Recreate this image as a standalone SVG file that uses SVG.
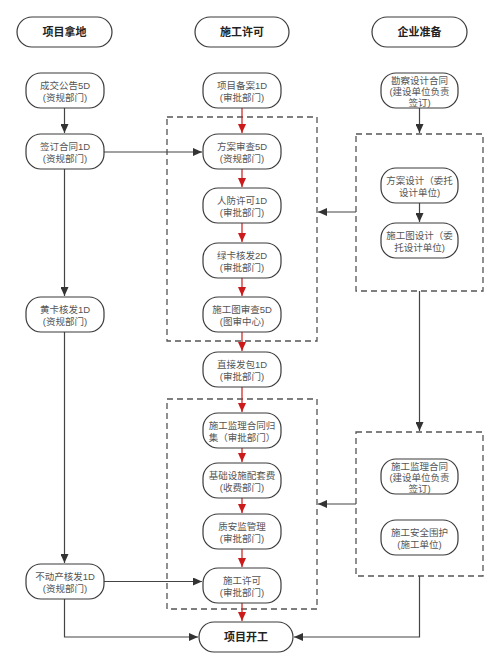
<svg xmlns="http://www.w3.org/2000/svg" width="500" height="669" viewBox="0 0 500 669">
<style>
.n{fill:#fff;stroke:#3a3a3a;stroke-width:1.2}
.t{font-family:"Liberation Sans","Noto Sans CJK SC",sans-serif;font-size:9.5px;fill:#555;text-anchor:middle}
.h{font-family:"Liberation Sans","Noto Sans CJK SC",sans-serif;font-size:11px;font-weight:bold;fill:#222;text-anchor:middle}
.b{fill:none;stroke:#555;stroke-width:1.3;stroke-dasharray:6 4}
.k{fill:none;stroke:#444;stroke-width:1.2}
.r{fill:none;stroke:#cc1a1a;stroke-width:1.2}
</style>
<defs>
<marker id="ak" markerUnits="userSpaceOnUse" markerWidth="10" markerHeight="8" refX="9" refY="4" orient="auto"><path d="M0,0 L9,4 L0,8 z" fill="#333"/></marker>
<marker id="ar" markerUnits="userSpaceOnUse" markerWidth="10" markerHeight="8" refX="9" refY="4" orient="auto"><path d="M0,0 L9,4 L0,8 z" fill="#cc1a1a"/></marker>
</defs>
<rect width="500" height="669" fill="#fff"/>
<g id="groups">
<rect class="b" x="167" y="117" width="150" height="224"/>
<rect class="b" x="167" y="399" width="150" height="210"/>
<rect class="b" x="356" y="134" width="127" height="157"/>
<rect class="b" x="356" y="432" width="127" height="144"/>
</g>
<g id="connectors">
<path class="k" d="M64.5 108V133" marker-end="url(#ak)"/>
<path class="k" d="M104 152H202" marker-end="url(#ak)"/>
<path class="k" d="M64.5 169V296" marker-end="url(#ak)"/>
<path class="k" d="M64.5 332V563" marker-end="url(#ak)"/>
<path class="k" d="M104 581.5H202" marker-end="url(#ak)"/>
<path class="k" d="M64.5 599V637H198" marker-end="url(#ak)"/>
<path class="k" d="M419.5 108V133" marker-end="url(#ak)"/>
<path class="k" d="M356 212H318" marker-end="url(#ak)"/>
<path class="k" d="M419.5 203V222" marker-end="url(#ak)"/>
<path class="k" d="M419.5 291V431" marker-end="url(#ak)"/>
<path class="k" d="M356 504H318" marker-end="url(#ak)"/>
<path class="k" d="M419.5 576V637H294" marker-end="url(#ak)"/>
<path class="r" d="M242 108V133" marker-end="url(#ar)"/>
<path class="r" d="M242 169V187" marker-end="url(#ar)"/>
<path class="r" d="M242 223V242" marker-end="url(#ar)"/>
<path class="r" d="M242 278V296" marker-end="url(#ar)"/>
<path class="r" d="M242 332V351" marker-end="url(#ar)"/>
<path class="r" d="M242 387V412" marker-end="url(#ar)"/>
<path class="r" d="M242 448V462" marker-end="url(#ar)"/>
<path class="r" d="M242 498V513" marker-end="url(#ar)"/>
<path class="r" d="M242 549V567" marker-end="url(#ar)"/>
<path class="r" d="M242 603V621" marker-end="url(#ar)"/>
</g>
<g id="h1"><rect class="n" x="17" y="17" width="95" height="30" rx="15"/><text class="h" x="64.5" y="36">项目拿地</text></g>
<g id="h2"><rect class="n" x="195" y="17" width="94" height="30" rx="15"/><text class="h" x="242" y="36">施工许可</text></g>
<g id="h3"><rect class="n" x="372" y="17" width="95" height="30" rx="15"/><text class="h" x="419.5" y="36">企业准备</text></g>
<g id="l1"><rect class="n" x="26" y="73" width="78" height="35" rx="15"/><text class="t" x="65" y="89">成交公告5D<tspan x="65" dy="11.5">(资规部门)</tspan></text></g>
<g id="l2"><rect class="n" x="26" y="134" width="78" height="35" rx="15"/><text class="t" x="65" y="150">签订合同1D<tspan x="65" dy="11.5">(资规部门)</tspan></text></g>
<g id="l3"><rect class="n" x="26" y="297" width="78" height="35" rx="15"/><text class="t" x="65" y="313">黄卡核发1D<tspan x="65" dy="11.5">(资规部门)</tspan></text></g>
<g id="l4"><rect class="n" x="26" y="564" width="78" height="35" rx="15"/><text class="t" x="65" y="580">不动产核发1D<tspan x="65" dy="11.5">(资规部门)</tspan></text></g>
<g id="c1"><rect class="n" x="203" y="73" width="78" height="35" rx="15"/><text class="t" x="242" y="89">项目备案1D<tspan x="242" dy="11.5">(审批部门)</tspan></text></g>
<g id="c2"><rect class="n" x="203" y="134" width="78" height="35" rx="15"/><text class="t" x="242" y="150">方案审查5D<tspan x="242" dy="11.5">(资规部门)</tspan></text></g>
<g id="c3"><rect class="n" x="203" y="188" width="78" height="35" rx="15"/><text class="t" x="242" y="204">人防许可1D<tspan x="242" dy="11.5">(审批部门)</tspan></text></g>
<g id="c4"><rect class="n" x="203" y="243" width="78" height="35" rx="15"/><text class="t" x="242" y="259">绿卡核发2D<tspan x="242" dy="11.5">(审批部门)</tspan></text></g>
<g id="c5"><rect class="n" x="203" y="297" width="78" height="35" rx="15"/><text class="t" x="242" y="313">施工图审查5D<tspan x="242" dy="11.5">(图审中心)</tspan></text></g>
<g id="c6"><rect class="n" x="203" y="352" width="78" height="35" rx="15"/><text class="t" x="242" y="368">直接发包1D<tspan x="242" dy="11.5">(审批部门)</tspan></text></g>
<g id="c7"><rect class="n" x="203" y="413" width="78" height="35" rx="15"/><text class="t" x="242" y="429">施工监理合同归<tspan x="242" dy="11.5">集（审批部门）</tspan></text></g>
<g id="c8"><rect class="n" x="203" y="463" width="78" height="35" rx="15"/><text class="t" x="242" y="479">基础设施配套费<tspan x="242" dy="11.5">(收费部门)</tspan></text></g>
<g id="c9"><rect class="n" x="203" y="514" width="78" height="35" rx="15"/><text class="t" x="242" y="530">质安监管理<tspan x="242" dy="11.5">(审批部门)</tspan></text></g>
<g id="c10"><rect class="n" x="203" y="568" width="78" height="35" rx="15"/><text class="t" x="242" y="584">施工许可<tspan x="242" dy="11.5">(审批部门)</tspan></text></g>
<g id="end"><rect class="n" x="199" y="622" width="94" height="30" rx="15"/><text class="h" x="246" y="641">项目开工</text></g>
<g id="r1"><rect class="n" x="381" y="73" width="77" height="35" rx="15"/><text class="t" x="419.5" y="83.5">勘察设计合同<tspan x="419.5" dy="11">(建设单位负责</tspan><tspan x="419.5" dy="11">签订)</tspan></text></g>
<g id="r2"><rect class="n" x="381" y="168" width="77" height="35" rx="15"/><text class="t" x="419.5" y="184">方案设计（委托<tspan x="419.5" dy="11.5">设计单位)</tspan></text></g>
<g id="r3"><rect class="n" x="381" y="223" width="77" height="35" rx="15"/><text class="t" x="419.5" y="239">施工图设计（委<tspan x="419.5" dy="11.5">托设计单位)</tspan></text></g>
<g id="r4"><rect class="n" x="381" y="459" width="77" height="35" rx="15"/><text class="t" x="419.5" y="469.5">施工监理合同<tspan x="419.5" dy="11">(建设单位负责</tspan><tspan x="419.5" dy="11">签订)</tspan></text></g>
<g id="r5"><rect class="n" x="381" y="520" width="77" height="35" rx="15"/><text class="t" x="419.5" y="536">施工安全围护<tspan x="419.5" dy="11.5">(施工单位)</tspan></text></g>
</svg>
